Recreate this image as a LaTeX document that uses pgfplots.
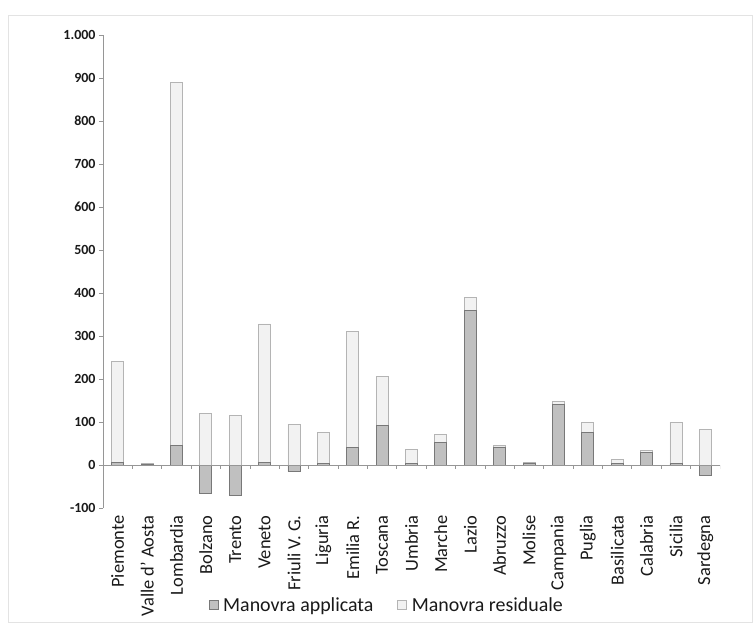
\documentclass[border=0pt]{standalone}
\usepackage{pgfplots}
\usepackage{pgfplotstable}
\pgfplotsset{compat=1.18}
\usepackage{fontspec}
\setmainfont{Carlito}

\definecolor{appl}{RGB}{192,192,192}
\definecolor{applline}{RGB}{120,120,120}
\definecolor{resid}{RGB}{242,242,242}
\definecolor{residline}{RGB}{180,180,180}
\definecolor{axisgray}{RGB}{150,150,150}
\definecolor{txt}{RGB}{25,25,25}

% idx: Piemonte ... Sardegna
\pgfplotstableread{
idx resid appl
0   240   5
1   3     2
2   890   45
3   120   -65
4   115   -70
5   328   6
6   95    -15
7   75    3
8   310   40
9   205   92
10  37    3
11  72    52
12  390   360
13  46    42
14  6     4
15  147   140
16  100   76
17  13    3
18  34    30
19  100   3
20  82    -25
}\regioni

\begin{document}
\begin{tikzpicture}
\path[use as bounding box] (-103bp,-122bp) rectangle (653bp,508bp);
\draw[gray!22, line width=0.8bp] (-95bp,-114bp) rectangle (649bp,493bp);
\begin{axis}[
    at={(0,0)}, anchor=south west,
    scale only axis,
    width=617bp, height=473bp,
    xmin=-0.5, xmax=20.5,
    ymin=-100, ymax=1000,
    axis x line*=bottom, axis y line*=left,
    x axis line style={draw=none},
    y axis line style={draw=axisgray, line width=0.9bp, -},
    xtick={0,...,20},
    xtick style={draw=none},
    xticklabels={Piemonte, Valle d' Aosta, Lombardia, Bolzano, Trento, Veneto, Friuli V. G., Liguria, Emilia R., Toscana, Umbria, Marche, Lazio, Abruzzo, Molise, Campania, Puglia, Basilicata, Calabria, Sicilia, Sardegna},
    xticklabel style={rotate=90, anchor=east, font=\fontsize{18.5}{20}\selectfont, text=txt},
    ytick={-100,0,...,1000},
    ytick style={draw=axisgray, line width=0.8bp},
    tick align=outside,
    major tick length=4bp,
    yticklabel style={font=\fontsize{14}{16}\selectfont\bfseries, text=txt},
    /pgf/number format/.cd, 1000 sep={.}, assume math mode=true,
    /pgfplots/.cd,
    legend style={at={(0.46,-0.205)}, anchor=center, draw=none, fill=none,
        font=\fontsize{20}{22}\selectfont, text=txt,
        legend columns=2,
        /tikz/every odd column/.append style={column sep=3bp},
        /tikz/every even column/.append style={column sep=22bp}},
    legend image code/.code={\draw[#1] (0bp,-4.5bp) rectangle (9bp,4.5bp);},
]
\addlegendimage{fill=appl, draw=applline}
\addlegendimage{fill=resid, draw=residline}
\legend{Manovra applicata, Manovra residuale}

\addplot[ybar, bar width=12bp, bar shift=0bp, fill=resid, draw=residline, line width=0.8bp, forget plot]
    table[x=idx, y=resid] {\regioni};
\addplot[ybar, bar width=12bp, bar shift=0bp, fill=appl, draw=applline, line width=0.8bp, forget plot]
    table[x=idx, y=appl] {\regioni};

\draw[axisgray, line width=1bp] (axis cs:-0.5,0) -- (axis cs:20.5,0);
\pgfplotsinvokeforeach{-0.5,0.5,...,20.5}{
    \draw[axisgray, line width=0.8bp] (axis cs:#1,0) -- ++(0pt,-4bp);
}
\end{axis}
\end{tikzpicture}
\end{document}
